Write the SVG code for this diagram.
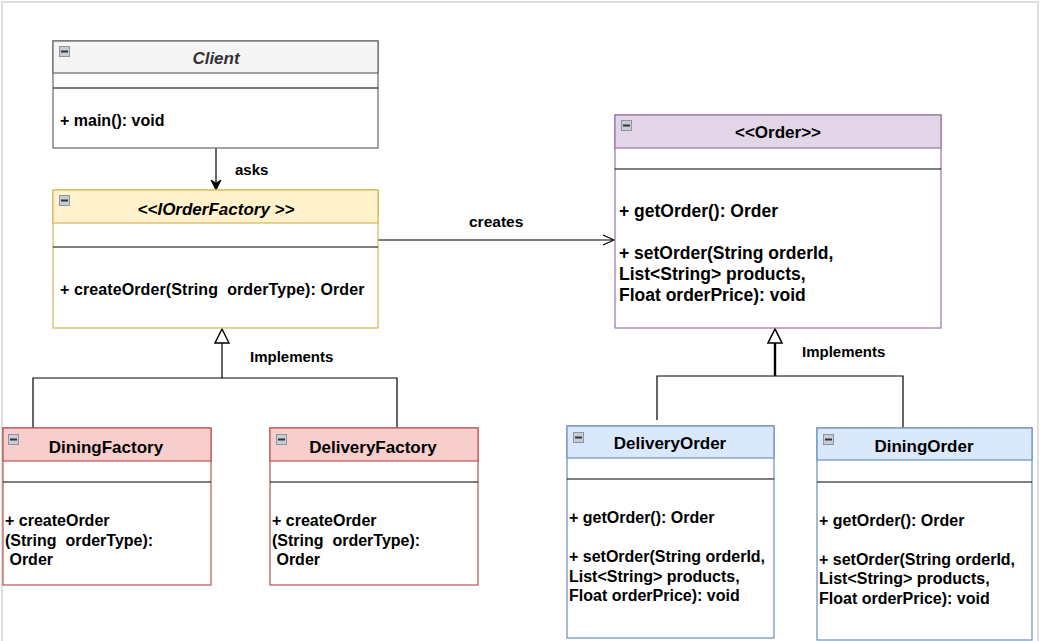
<svg xmlns="http://www.w3.org/2000/svg" width="1040" height="641" viewBox="0 0 1040 641">
<defs>
<style>
text{font-family:"Liberation Sans",Arial,sans-serif;font-weight:bold;fill:#000;white-space:pre}
.h{font-size:17px;text-anchor:middle}
.b{font-size:16px}
.bo{font-size:17.5px}
.lbl{font-size:15px}
.sep{stroke:#000;stroke-width:1.2}
.conn{stroke:#000;stroke-width:1.2;fill:none}
.ico rect{fill:#c8ccd4;stroke:#8a94a2;stroke-width:1}
.ico line{stroke:#333;stroke-width:2}
</style>
<g id="icon" class="ico"><rect x="0.5" y="0.5" width="10" height="10"/><line x1="2" y1="5.5" x2="9" y2="5.5"/></g>
</defs>
<rect x="0" y="0" width="1040" height="641" fill="#fff"/>
<rect x="2" y="2" width="1036" height="680" fill="none" stroke="#dedede" stroke-width="2"/>

<g id="connectors">
<line class="conn" x1="216" y1="148" x2="216" y2="182"/>
<path d="M216 190 L211 180 L216 183 L221 180 Z" fill="#000" stroke="#000" stroke-width="1"/>
<text class="lbl" x="235" y="175">asks</text>
<line class="conn" x1="378" y1="240" x2="613" y2="240"/>
<path d="M603 235 L614 240 L603 245" fill="none" stroke="#000" stroke-width="1.2"/>
<text class="lbl" x="469" y="227" style="font-size:15.5px">creates</text>
<path class="conn" d="M33 428 V378 H397 V428" stroke="#333"/>
<line class="conn" x1="222" y1="343" x2="222" y2="378"/>
<path d="M222 329 L215 343 L229 343 Z" fill="#fff" stroke="#000" stroke-width="1.4"/>
<text class="lbl" x="250" y="362">Implements</text>
<path class="conn" d="M657 420 V376 H903 V428" stroke="#333"/>
<line x1="775" y1="343" x2="775" y2="376" stroke="#000" stroke-width="2.4"/>
<path d="M775 329 L768 343 L782 343 Z" fill="#fff" stroke="#000" stroke-width="1.6"/>
<text class="lbl" x="802" y="357">Implements</text>
</g>

<g id="Client">
<rect x="53" y="41" width="325" height="107" fill="#fff" stroke="#666" stroke-width="1.2"/>
<rect x="53" y="41" width="325" height="32" fill="#f5f5f5" stroke="#666" stroke-width="1.2"/>
<use href="#icon" x="59" y="46"/>
<line class="sep" x1="53" y1="88" x2="378" y2="88"/>
<text class="h" x="216" y="64" style="font-style:italic;fill:#333">Client</text>
<text class="b" x="60" y="126">+ main(): void</text>
</g>

<g id="IOrderFactory">
<rect x="53" y="190" width="325" height="138" fill="#fff" stroke="#d6b656" stroke-width="1.2"/>
<rect x="53" y="190" width="325" height="33" fill="#fff2cc" stroke="#d6b656" stroke-width="1.2"/>
<use href="#icon" x="59" y="195"/>
<line class="sep" x1="53" y1="247" x2="378" y2="247"/>
<text class="h" x="216" y="215" style="font-style:italic">&lt;&lt;IOrderFactory &gt;&gt;</text>
<text class="b" x="60" y="295" style="letter-spacing:0.1px">+ createOrder(String  orderType): Order</text>
</g>

<g id="Order">
<rect x="615" y="115" width="326" height="213" fill="#fff" stroke="#9673a6" stroke-width="1.2"/>
<rect x="615" y="115" width="326" height="33" fill="#e1d5e7" stroke="#9673a6" stroke-width="1.2"/>
<use href="#icon" x="621" y="120"/>
<line class="sep" x1="615" y1="169" x2="941" y2="169"/>
<text class="h" x="778" y="138">&lt;&lt;Order&gt;&gt;</text>
<text class="bo" x="619" y="217">+ getOrder(): Order</text>
<text class="bo" x="619" y="259">+ setOrder(String orderId,</text>
<text class="bo" x="619" y="280">List&lt;String&gt; products,</text>
<text class="bo" x="619" y="301">Float orderPrice): void</text>
</g>

<g id="DiningFactory">
<rect x="3" y="428" width="208" height="157" fill="#fff" stroke="#b85450" stroke-width="1.2"/>
<rect x="3" y="428" width="208" height="33" fill="#f8cecc" stroke="#b85450" stroke-width="1.2"/>
<use href="#icon" x="8" y="434"/>
<line class="sep" x1="3" y1="482" x2="211" y2="482"/>
<text class="h" x="106" y="453">DiningFactory</text>
<text class="b" x="5" y="526">+ createOrder</text>
<text class="b" x="5" y="546">(String  orderType):</text>
<text class="b" x="5" y="565"> Order</text>
</g>

<g id="DeliveryFactory">
<rect x="270" y="428" width="208" height="157" fill="#fff" stroke="#b85450" stroke-width="1.2"/>
<rect x="270" y="428" width="208" height="33" fill="#f8cecc" stroke="#b85450" stroke-width="1.2"/>
<use href="#icon" x="276" y="434"/>
<line class="sep" x1="270" y1="482" x2="478" y2="482"/>
<text class="h" x="373" y="453">DeliveryFactory</text>
<text class="b" x="272" y="526">+ createOrder</text>
<text class="b" x="272" y="546">(String  orderType):</text>
<text class="b" x="272" y="565"> Order</text>
</g>

<g id="DeliveryOrder">
<rect x="567" y="426" width="207" height="212" fill="#fff" stroke="#6c8ebf" stroke-width="1.2"/>
<rect x="567" y="426" width="207" height="32" fill="#dae8fc" stroke="#6c8ebf" stroke-width="1.2"/>
<use href="#icon" x="573" y="432"/>
<line class="sep" x1="567" y1="479" x2="774" y2="479"/>
<text class="h" x="670" y="449">DeliveryOrder</text>
<text class="b" x="569" y="523">+ getOrder(): Order</text>
<text class="b" x="569" y="562">+ setOrder(String orderId,</text>
<text class="b" x="569" y="582">List&lt;String&gt; products,</text>
<text class="b" x="569" y="601">Float orderPrice): void</text>
</g>

<g id="DiningOrder">
<rect x="817" y="428" width="215" height="212" fill="#fff" stroke="#6c8ebf" stroke-width="1.2"/>
<rect x="817" y="428" width="215" height="32" fill="#dae8fc" stroke="#6c8ebf" stroke-width="1.2"/>
<use href="#icon" x="823" y="434"/>
<line class="sep" x1="817" y1="482" x2="1032" y2="482"/>
<text class="h" x="924" y="452">DiningOrder</text>
<text class="b" x="819" y="526">+ getOrder(): Order</text>
<text class="b" x="819" y="565">+ setOrder(String orderId,</text>
<text class="b" x="819" y="584">List&lt;String&gt; products,</text>
<text class="b" x="819" y="604">Float orderPrice): void</text>
</g>
</svg>
